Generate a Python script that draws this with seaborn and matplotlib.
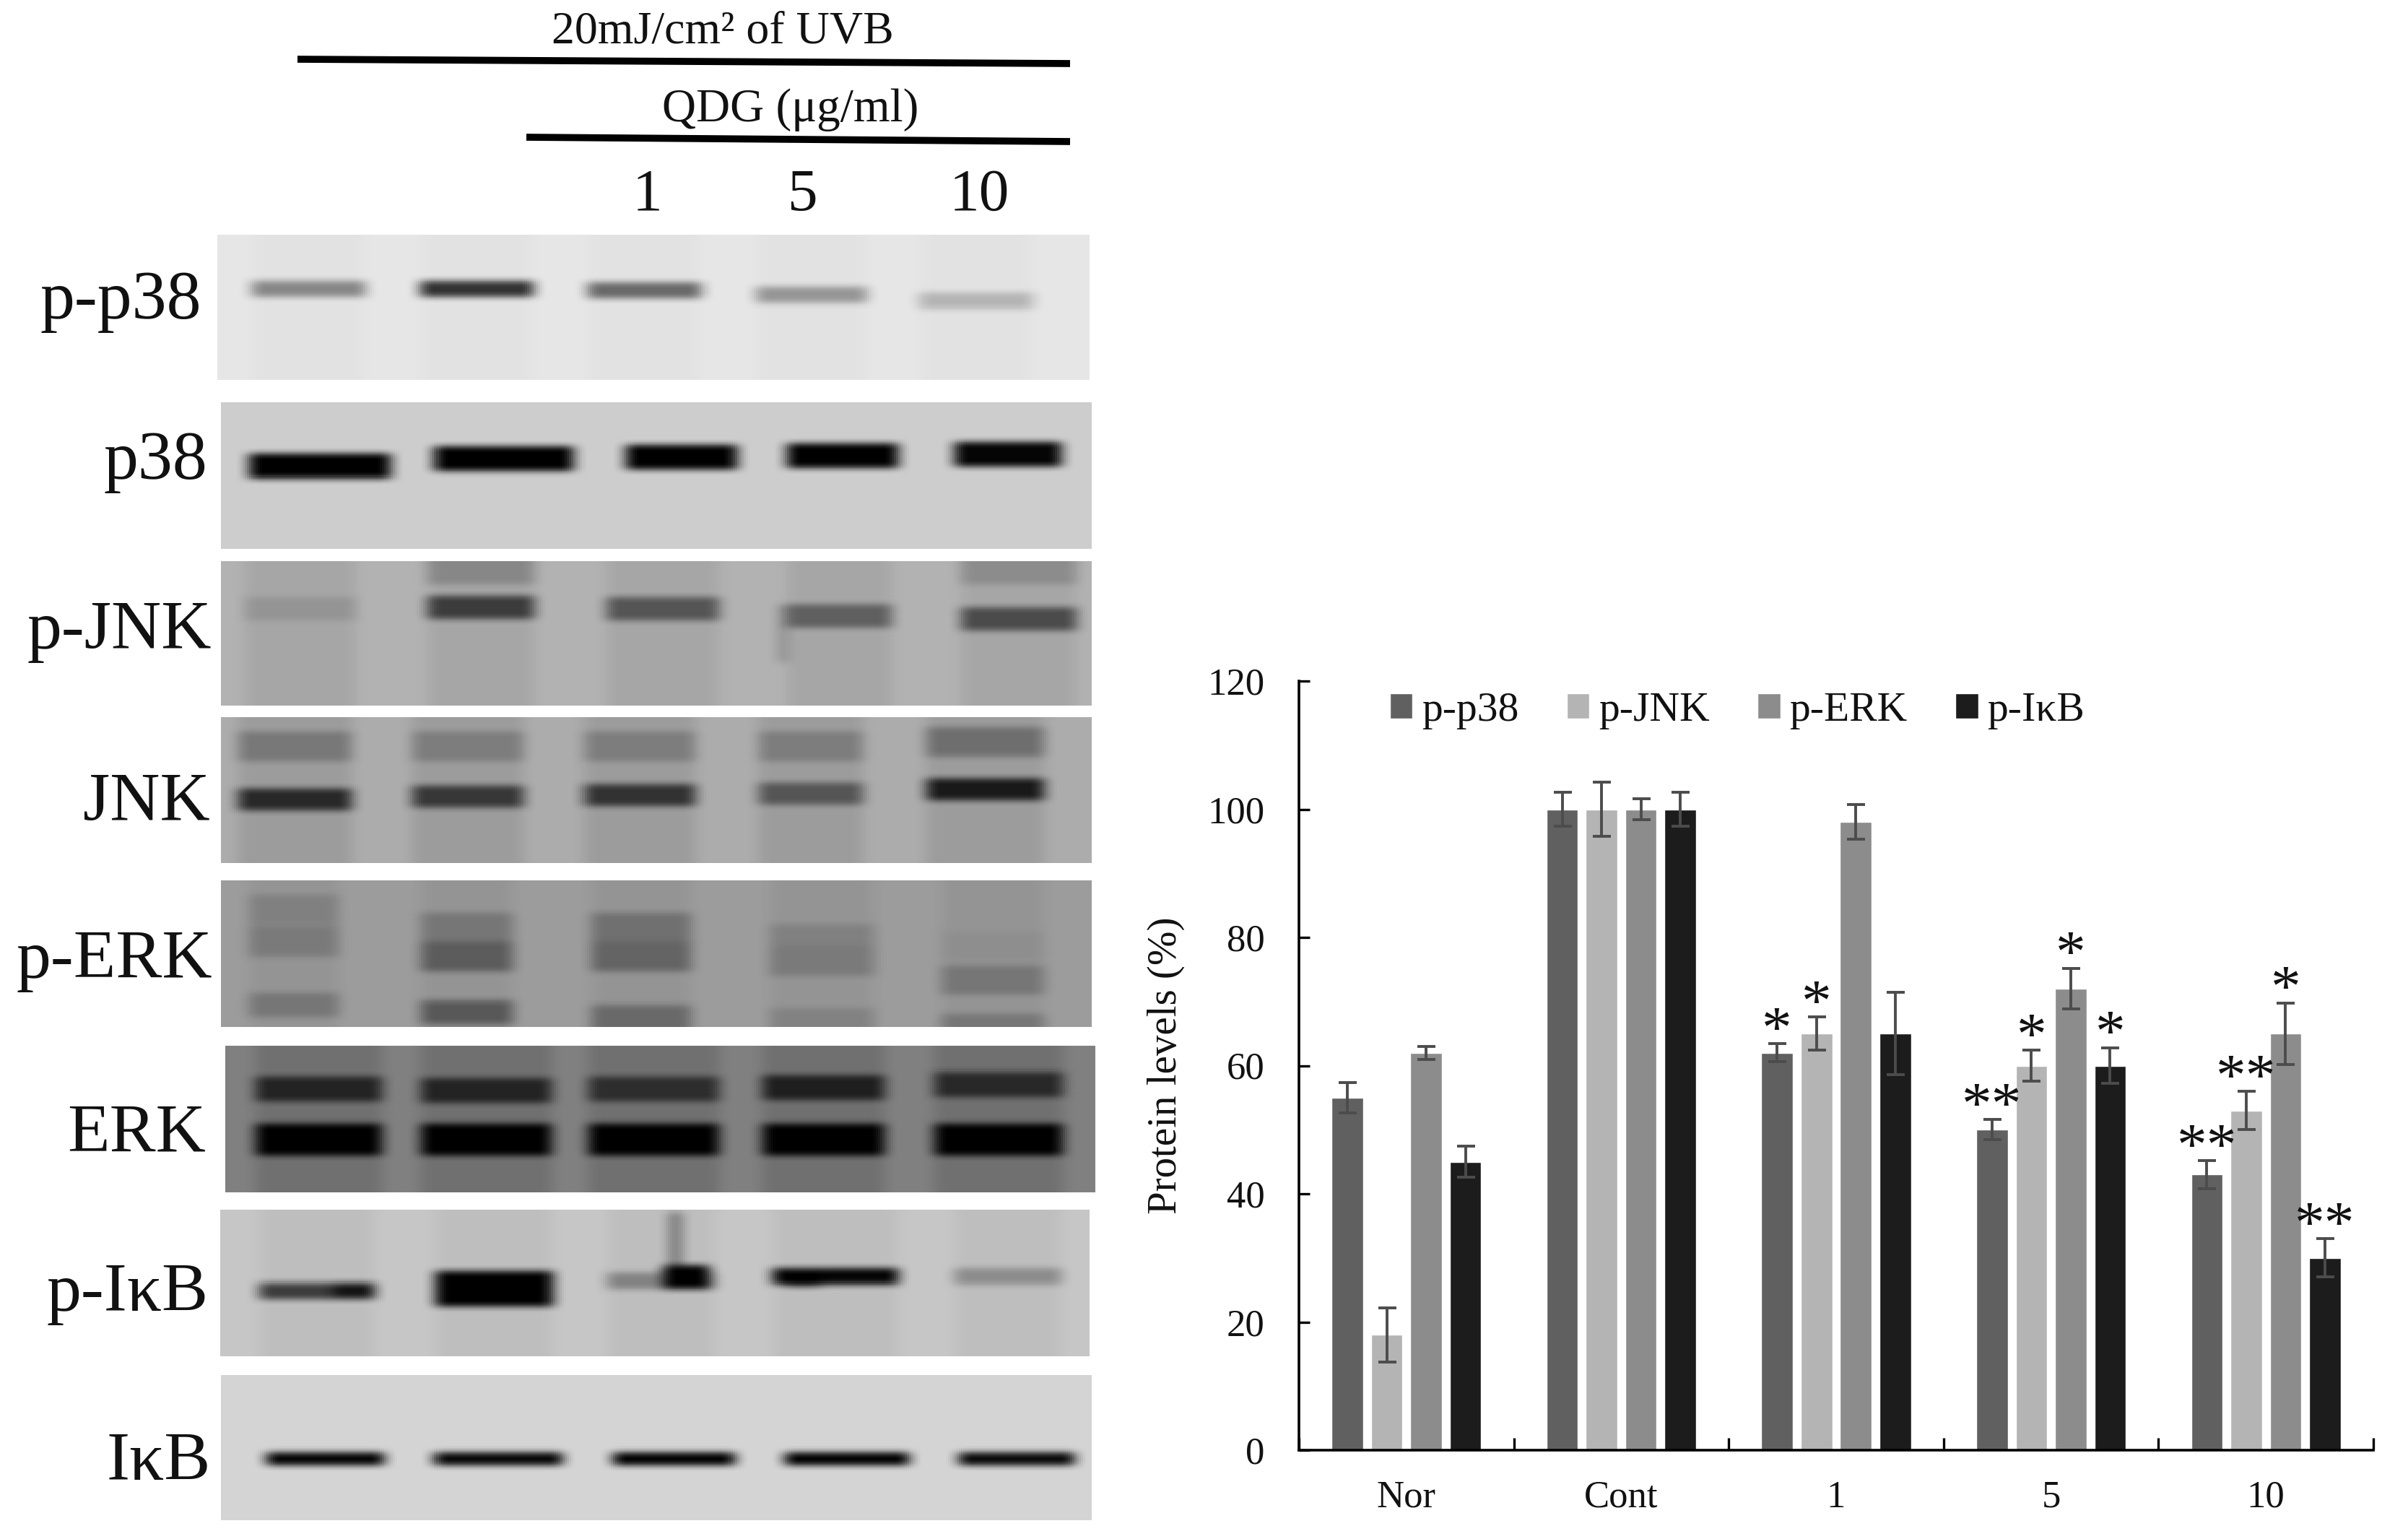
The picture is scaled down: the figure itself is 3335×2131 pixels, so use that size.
import numpy as np
import pandas as pd
import matplotlib
matplotlib.use('Agg')
import matplotlib.pyplot as plt
import seaborn as sns
from matplotlib.lines import Line2D
from matplotlib.patches import Patch
from matplotlib.ticker import FixedLocator

# chart data
categories = ['Nor', 'Cont', '1', '5', '10']
proteins = ['p-p38', 'p-JNK', 'p-ERK', 'p-IκB']
p_p38 = [55, 100, 62, 50, 43]
p_jnk = [18, 100, 65, 60, 53]
p_erk = [62, 100, 98, 72, 65]
p_ikb = [45, 100, 65, 60, 30]
err_p38 = [2.4, 2.7, 1.4, 1.6, 2.2]
err_jnk = [4.2, 4.2, 2.6, 2.4, 3.0]
err_erk = [1.0, 1.6, 2.7, 3.2, 4.8]
err_ikb = [2.4, 2.7, 6.4, 2.8, 3.0]
sig_p38 = ['', '', '*', '**', '**']
sig_jnk = ['', '', '*', '*', '**']
sig_erk = ['', '', '', '*', '*']
sig_ikb = ['', '', '', '*', '**']
yticks = [0, 20, 40, 60, 80, 100, 120]
colors = ['#606060', '#b4b4b4', '#8c8c8c', '#1c1c1c']

# blot labels and the grey level of each band, lane by lane
blot_names = ['p-p38', 'p38', 'p-JNK', 'JNK', 'p-ERK', 'ERK', 'p-IκB', 'IκB']
blot_bg = [230, 205, 178, 172, 156, 128, 198, 212]
lane_shade = [4, 0, 12, 16, 8, 16, 8, 0]
gray_pp38 = [135, 50, 105, 150, 180]
gray_p38 = [0, 0, 0, 0, 5]
gray_pjnk = [148, 60, 85, 95, 75]
gray_jnk = [40, 55, 50, 85, 25]
gray_jnk_top = [120, 125, 125, 125, 110]
gray_perk_a = [128, 118, 112, 128, 142]
gray_perk_b = [122, 92, 100, 122, 118]
gray_perk_c = [118, 88, 105, 130, 118]
gray_erk_a = [35, 35, 45, 30, 40]
gray_erk_b = [0, 0, 0, 0, 0]
gray_pikb = [60, 0, 130, 5, 140]
gray_ikb = [5, 8, 2, 2, 10]

W, H = 3335, 2131


def axes_px(fig, x0, y0, x1, y1):
    return fig.add_axes([x0 / W, 1 - y1 / H, (x1 - x0) / W, (y1 - y0) / H])


def blur(img, rows=5, cols=7):
    for n, axis in ((rows, 0), (cols, 1)):
        kernel = np.ones(n) / n
        for _ in range(2):
            pad = [(n, n) if a == axis else (0, 0) for a in (0, 1)]
            padded = np.pad(img, pad, mode='edge')
            img = np.apply_along_axis(lambda m: np.convolve(m, kernel, mode='same'), axis, padded)
            img = img[n:-n, :] if axis == 0 else img[:, n:-n]
    return img


def draw_blot(fig, box, bg, shade, lanes, bands, extras=()):
    ax = axes_px(fig, *box)
    img = np.full((100, 400), float(bg))
    for left, right in lanes:
        img[:, int(left * 400):int(right * 400)] = bg - shade
    for ypos, thick, grays in bands:
        for (left, right), y, g in zip(lanes, ypos, grays):
            r0, r1 = int((y - thick / 2) * 100), int((y + thick / 2) * 100)
            c0, c1 = int(left * 400), int(right * 400)
            img[r0:r1, c0:c1] = np.minimum(img[r0:r1, c0:c1], g)
    for left, right, top, bottom, g in extras:
        img[int(top * 100):int(bottom * 100), int(left * 400):int(right * 400)] = g
    sns.heatmap(blur(img), ax=ax, cmap='gray', vmin=0, vmax=255, cbar=False,
                xticklabels=False, yticklabels=False, rasterized=True)
    ax.set_xlabel('')
    ax.set_ylabel('')


sns.set_theme(style='white')
plt.rcParams['font.family'] = ['Liberation Serif', 'DejaVu Serif']
fig = plt.figure(figsize=(W / 100, H / 100), dpi=100, facecolor='white')

# western blot panels
boxes = [(301, 325, 1509, 526), (306, 557, 1512, 760), (306, 777, 1512, 977),
         (306, 993, 1512, 1195), (306, 1219, 1512, 1422), (312, 1448, 1517, 1651),
         (305, 1675, 1509, 1878), (306, 1904, 1512, 2105)]
lanes_pp38 = [(.04, .17), (.233, .364), (.426, .556), (.618, .745), (.806, .937)]
lanes_p38 = [(.033, .195), (.246, .406), (.466, .594), (.652, .779), (.843, .967)]
lanes_pjnk = [(.029, .156), (.238, .361), (.443, .574), (.652, .77), (.852, .984)]
lanes_jnk = [(.02, .152), (.221, .348), (.418, .545), (.619, .738), (.811, .947)]
lanes_perk = [(.033, .135), (.23, .336), (.426, .541), (.631, .75), (.828, .947)]
lanes_erk = [(.036, .18), (.225, .377), (.418, .569), (.619, .758), (.815, .963)]
lanes_pikb = [(.047, .178), (.248, .383), (.445, .572), (.637, .781), (.846, .969)]
lanes_ikb = [(.053, .189), (.246, .393), (.451, .59), (.648, .791), (.848, .98)]

draw_blot(fig, boxes[0], blot_bg[0], lane_shade[0], lanes_pp38, [([.38, .38, .39, .42, .46], .11, gray_pp38)])
draw_blot(fig, boxes[1], blot_bg[1], lane_shade[1], lanes_p38, [([.44, .39, .38, .37, .36], .17, gray_p38)])
draw_blot(fig, boxes[2], blot_bg[2], lane_shade[2], lanes_pjnk, [([.33, .32, .33, .38, .40], .16, gray_pjnk)],
          [(.238, .361, 0, .16, 135), (.852, .984, 0, .16, 140), (.644, .648, .3, .7, 105)])
draw_blot(fig, boxes[3], blot_bg[3], lane_shade[3], lanes_jnk,
          [([.57, .55, .54, .53, .50], .15, gray_jnk), ([.2, .2, .2, .2, .17], .2, gray_jnk_top)])
draw_blot(fig, boxes[4], blot_bg[4], lane_shade[4], lanes_perk,
          [([.2, .32, .32, .4, .45], .2, gray_perk_a), ([.42, .52, .52, .55, .68], .2, gray_perk_b),
           ([.85, .9, .93, .95, .99], .16, gray_perk_c)])
draw_blot(fig, boxes[5], blot_bg[5], lane_shade[5], lanes_erk,
          [([.3, .31, .3, .29, .27], .17, gray_erk_a), ([.64, .64, .64, .64, .64], .22, gray_erk_b)])
draw_blot(fig, boxes[6], blot_bg[6], lane_shade[6], lanes_pikb, [([.56, .52, .49, .46, .46], .11, gray_pikb)],
          [(.248, .383, .42, .66, 0), (.51, .565, .38, .54, 0), (.518, .53, .02, .38, 105),
           (.13, .178, .5, .6, 20), (.65, .69, .43, .52, 0)])
draw_blot(fig, boxes[7], blot_bg[7], lane_shade[7], lanes_ikb, [([.58, .58, .58, .58, .58], .08, gray_ikb)])

overlay = fig.add_axes([0, 0, 1, 1])
overlay.set_axis_off()
overlay.set_xlim(0, W)
overlay.set_ylim(H, 0)
overlay.patch.set_alpha(0)
overlay.add_line(Line2D([412, 1482], [82, 88], color='black', lw=7, solid_capstyle='butt'))
overlay.add_line(Line2D([729, 1482], [190, 196], color='black', lw=7, solid_capstyle='butt'))
overlay.text(1001, 45, '20mJ/cm² of UVB', ha='center', va='center', fontsize=46, color='#111111')
overlay.text(1095, 152, 'QDG (μg/ml)', ha='center', va='center', fontsize=47, color='#111111')
for label, x in zip(['1', '5', '10'], [897, 1112, 1356]):
    overlay.text(x, 271, label, ha='center', va='center', fontsize=60, color='#111111')
label_right = [279, 287, 293, 291, 294, 285, 289, 292]
label_mid = [418, 640, 875, 1113, 1331, 1571, 1792, 2026]
for name, x, y in zip(blot_names, label_right, label_mid):
    overlay.text(x, y, name, ha='right', va='center', fontsize=69, color='#111111')

# bar chart
df = pd.DataFrame({'group': categories * 4,
                   'protein': np.repeat(proteins, 5),
                   'level': p_p38 + p_jnk + p_erk + p_ikb})
ax = axes_px(fig, 1799, 943, 3287, 2008)
ax.patch.set_alpha(0)
sns.barplot(data=df, x='group', y='level', hue='protein', order=categories, hue_order=proteins,
            palette=colors, width=.733, gap=.2, errorbar=None, saturation=1, legend=False, ax=ax)
errors = [err_p38, err_jnk, err_erk, err_ikb]
stars = [sig_p38, sig_jnk, sig_erk, sig_ikb]
values = [p_p38, p_jnk, p_erk, p_ikb]
for bars, vals, errs, sigs in zip(ax.containers, values, errors, stars):
    xs = [b.get_x() + b.get_width() / 2 for b in bars]
    ax.errorbar(xs, vals, yerr=errs, fmt='none', ecolor='#4c4c4c', elinewidth=2.8, capsize=9, capthick=2.8)
    for x, v, e, s in zip(xs, vals, errs, sigs):
        if s:
            ax.text(x, v + e + 1.7, s, ha='center', va='center', fontsize=60,
                    color='#111111', linespacing=1)

ax.set_xlim(-.5, 4.5)
ax.set_ylim(0, 120)
ax.set_yticks(yticks)
ax.xaxis.set_minor_locator(FixedLocator([-.5, .5, 1.5, 2.5, 3.5, 4.5]))
ax.tick_params(axis='x', which='major', length=0, pad=30, labelsize=38, colors='#111111')
ax.tick_params(axis='x', which='minor', direction='in', length=12, width=2.4, color='black', bottom=True)
ax.tick_params(axis='y', direction='in', length=11, width=2.4, pad=34, labelsize=38, color='black',
               labelcolor='#111111', left=True)
ax.set_xlabel('')
ax.set_ylabel('Protein levels (%)', fontsize=41, color='#111111', labelpad=23)
sns.despine(ax=ax)
for side in ('left', 'bottom'):
    ax.spines[side].set_linewidth(2.6)
    ax.spines[side].set_color('black')

handles = [Patch(facecolor=c, label=p) for c, p in zip(colors, proteins)]
leg = ax.legend(handles=handles, ncol=4, frameon=False, loc='upper left', bbox_to_anchor=(.069, 1.008),
                fontsize=41.5, handlelength=.55, handleheight=.55, handletextpad=.22, columnspacing=1.15,
                borderaxespad=0, labelcolor='#111111')

fig.savefig('out.png', dpi=100, facecolor='white')
